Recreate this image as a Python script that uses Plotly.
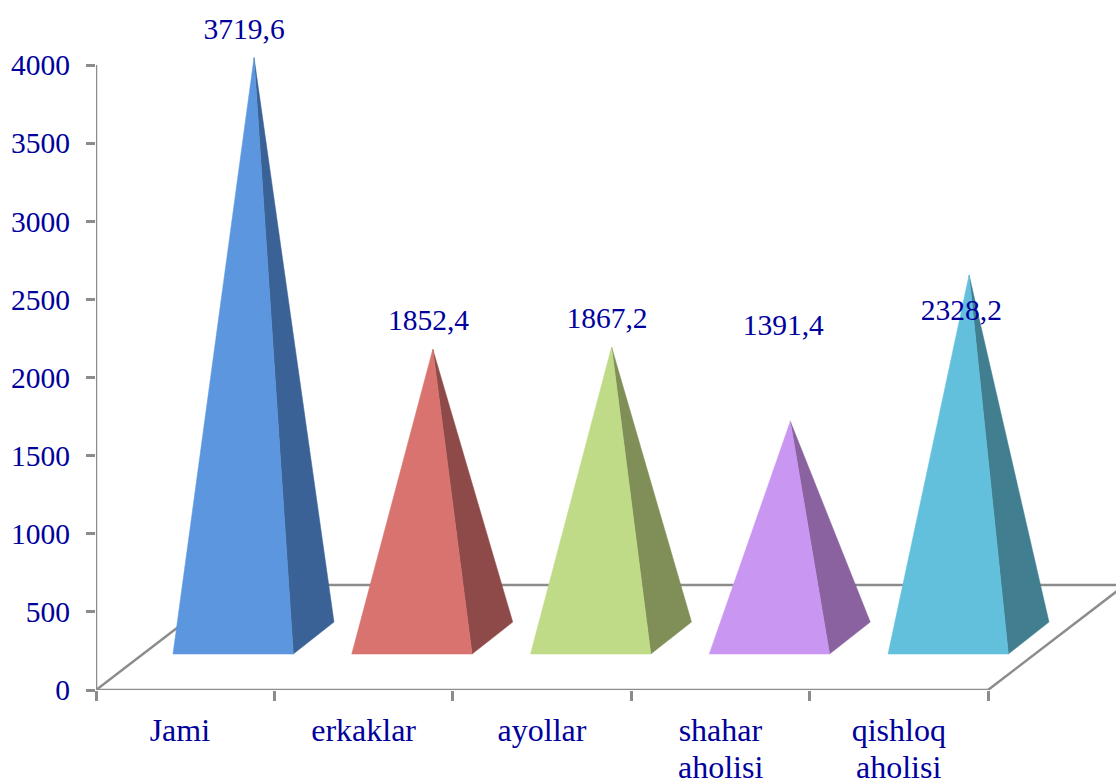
import plotly.graph_objects as go

categories = ["Jami", "erkaklar", "ayollar", "shahar", "qishloq"]
categories_line2 = ["", "", "", "aholisi", "aholisi"]
values = [3719.6, 1852.4, 1867.2, 1391.4, 2328.2]
value_labels = ["3719,6", "1852,4", "1867,2", "1391,4", "2328,2"]
y_ticks = [0, 500, 1000, 1500, 2000, 2500, 3000, 3500, 4000]

front_colors = ["#5b96de", "#d97370", "#c0db87", "#c997f2", "#62c0dc"]
side_colors = ["#3b6296", "#8e4a48", "#7f8f57", "#8a629f", "#417e90"]

TEXT = "#00009c"
GRID = "#8c8c8c"
FONT = "Liberation Serif"
SIZE = 29.5
CAT_SIZE = 32

# oblique projection of the 3D floor, in axis units
DEPTH_X, DEPTH_Y = 0.768, 672
FRONT_L, FRONT_R, BACK_R, APEX_X = 0.4316, 1.106, 1.334, 0.886
BASE_FRONT_Y, BASE_BACK_Y, APEX_LIFT = 230, 435, 328
PITCH = 1.002
# label placement relative to each pyramid's apex (axis units)
LABEL_DX = [-0.056, -0.024, -0.026, -0.04, -0.043]
LABEL_DY = [167, 172, 167, 602, -238]
CAT_DX = [-0.03, 0, 0, 0, 0]

fig = go.Figure()


def line(xs, ys):
    fig.add_trace(go.Scatter(x=xs, y=ys, mode="lines", cliponaxis=False,
                             line=dict(color=GRID, width=2.5), hoverinfo="skip",
                             showlegend=False))


n = len(categories)
line([0, 0], [0, y_ticks[-1]])
line([0, n], [0, 0])
line([0, DEPTH_X], [0, DEPTH_Y])
line([n, n + DEPTH_X], [0, DEPTH_Y])
line([DEPTH_X, n + DEPTH_X], [DEPTH_Y, DEPTH_Y])

for i, v in enumerate(values):
    p = i * PITCH
    apex = (p + APEX_X, v + APEX_LIFT)
    fig.add_trace(go.Scatter(
        x=[p + FRONT_R, p + BACK_R, apex[0], p + FRONT_R],
        y=[BASE_FRONT_Y, BASE_BACK_Y, apex[1], BASE_FRONT_Y],
        mode="lines", fill="toself", fillcolor=side_colors[i],
        line=dict(color=side_colors[i], width=0.5), hoverinfo="skip",
        showlegend=False, cliponaxis=False))
    fig.add_trace(go.Scatter(
        x=[p + FRONT_L, p + FRONT_R, apex[0], p + FRONT_L],
        y=[BASE_FRONT_Y, BASE_FRONT_Y, apex[1], BASE_FRONT_Y],
        mode="lines", fill="toself", fillcolor=front_colors[i],
        line=dict(color=front_colors[i], width=0.5), hoverinfo="skip",
        showlegend=False, cliponaxis=False))

fig.add_trace(go.Scatter(
    x=[i * PITCH + APEX_X + LABEL_DX[i] for i in range(n)],
    y=[values[i] + APEX_LIFT + LABEL_DY[i] for i in range(n)],
    mode="text", text=value_labels, textposition="middle center",
    textfont=dict(family=FONT, size=SIZE, color=TEXT),
    hoverinfo="skip", showlegend=False, cliponaxis=False))

for i, t in enumerate(categories_line2):
    if t:
        fig.add_annotation(x=i + 0.5 + CAT_DX[i], xref="x", y=-0.1116, yref="paper",
                           text=t, showarrow=False, yanchor="middle", xanchor="center",
                           font=dict(family=FONT, size=CAT_SIZE, color=TEXT))

fig.update_layout(
    width=1116, height=780,
    margin=dict(l=96, r=0, t=0, b=90),
    paper_bgcolor="white", plot_bgcolor="white",
    showlegend=False,
    xaxis=dict(
        range=[0, 1020 / 178.4], showgrid=False, zeroline=False, showline=False,
        tickmode="array", tickvals=[i + 0.5 + CAT_DX[i] for i in range(n)],
        ticktext=categories, ticks="",
        tickfont=dict(family=FONT, size=CAT_SIZE, color=TEXT),
        ticklabelstandoff=18,
        minor=dict(ticks="outside", tick0=0, dtick=1, ticklen=10, tickwidth=2.5,
                   tickcolor=GRID, showgrid=False),
    ),
    yaxis=dict(
        range=[0, 4416], showgrid=False, zeroline=False, showline=False,
        tickmode="array", tickvals=y_ticks, ticktext=[str(t) for t in y_ticks],
        ticks="outside", ticklen=9, tickwidth=2.5, tickcolor=GRID,
        tickfont=dict(family=FONT, size=SIZE, color=TEXT),
        ticklabelstandoff=10,
    ),
)

fig.write_html("out.html", config={"displayModeBar": False},
               post_script="document.body.style.margin='0';")
